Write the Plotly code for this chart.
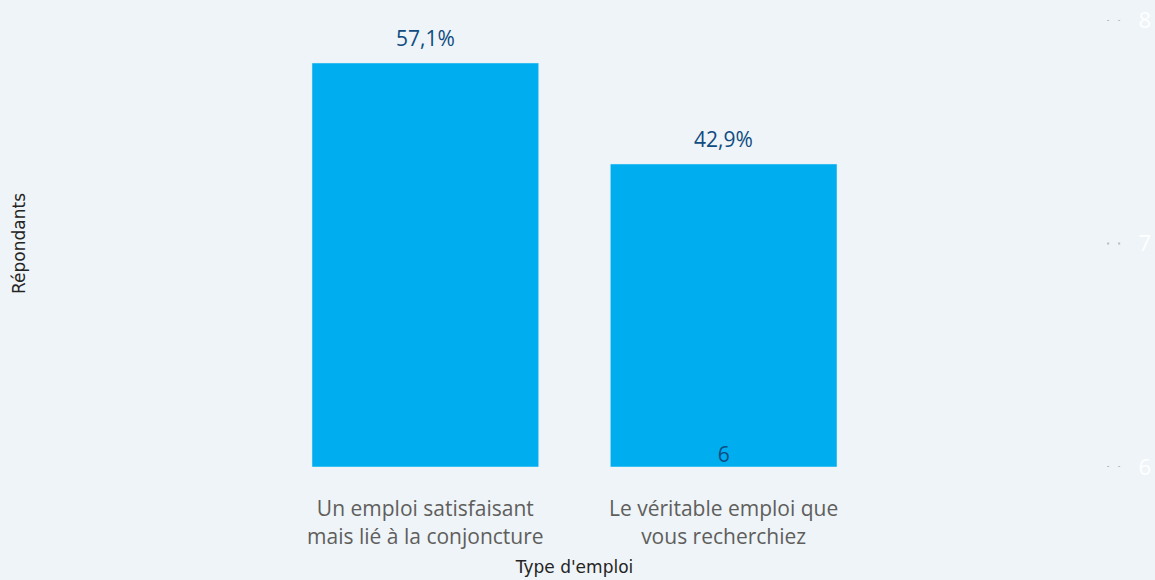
import plotly.graph_objects as go

# Données
categories = ["Un emploi satisfaisant<br>mais lié à la conjoncture",
              "Le véritable emploi que<br>vous recherchiez"]
repondants = [8, 6]
pourcentages = ["57,1%", "42,9%"]
ligne_cat = [categories[1]]
ligne_val = [6]
ticks_droite = [6, 7, 8]

fig = go.Figure()
fig.add_trace(go.Bar(x=categories, y=repondants, marker_color="#00AEEF",
                     hoverinfo="skip", showlegend=False))
fig.add_trace(go.Scatter(x=ligne_cat, y=ligne_val, yaxis="y2", mode="text",
                         text=[str(v) for v in ligne_val], textposition="top center",
                         textfont=dict(size=21, color="#0F4C81", family="Open Sans"),
                         showlegend=False, hoverinfo="skip"))

for c, v, p in zip(categories, repondants, pourcentages):
    fig.add_annotation(x=c, y=v, text=p, showarrow=False, yshift=25,
                       font=dict(size=21, color="#0F4C81", family="Open Sans"))

# petits pointillés de la grille à droite
for t in ticks_droite:
    fig.add_shape(type="line", xref="paper", yref="y2", x0=1.003, x1=1.0155, y0=t, y1=t,
                  line=dict(color="#BBBBBB", width=2, dash="2px,9px"))

titre_font = dict(size=17, color="#252423", family="DejaVu Sans")

fig.update_layout(
    width=1155, height=580,
    margin=dict(l=45, r=51, t=20, b=113),
    paper_bgcolor="#EEF4F8", plot_bgcolor="#EEF4F8",
    bargap=0.24,
    xaxis=dict(range=[-1.275, 2.275], showgrid=False, zeroline=False, automargin=False,
               tickfont=dict(size=21, color="#605E5C", family="Open Sans"),
               ticks="outside", ticklen=23, tickcolor="rgba(0,0,0,0)",
               title=dict(text="Type d'emploi", standoff=12, font=titre_font)),
    yaxis=dict(range=[0, 8.851], showgrid=False, zeroline=False, showticklabels=False,
               automargin=False,
               title=dict(text="Répondants", standoff=14, font=titre_font)),
    yaxis2=dict(range=[6, 8], overlaying="y", side="right", showgrid=False, automargin=False,
                zeroline=False, tickvals=ticks_droite,
                tickfont=dict(size=22, color="#FFFFFF", family="Open Sans"),
                ticks="outside", ticklen=29, tickcolor="rgba(0,0,0,0)"),
)

fig.write_html("out.html", config={"displayModeBar": False},
               post_script="document.body.style.margin='0';")
